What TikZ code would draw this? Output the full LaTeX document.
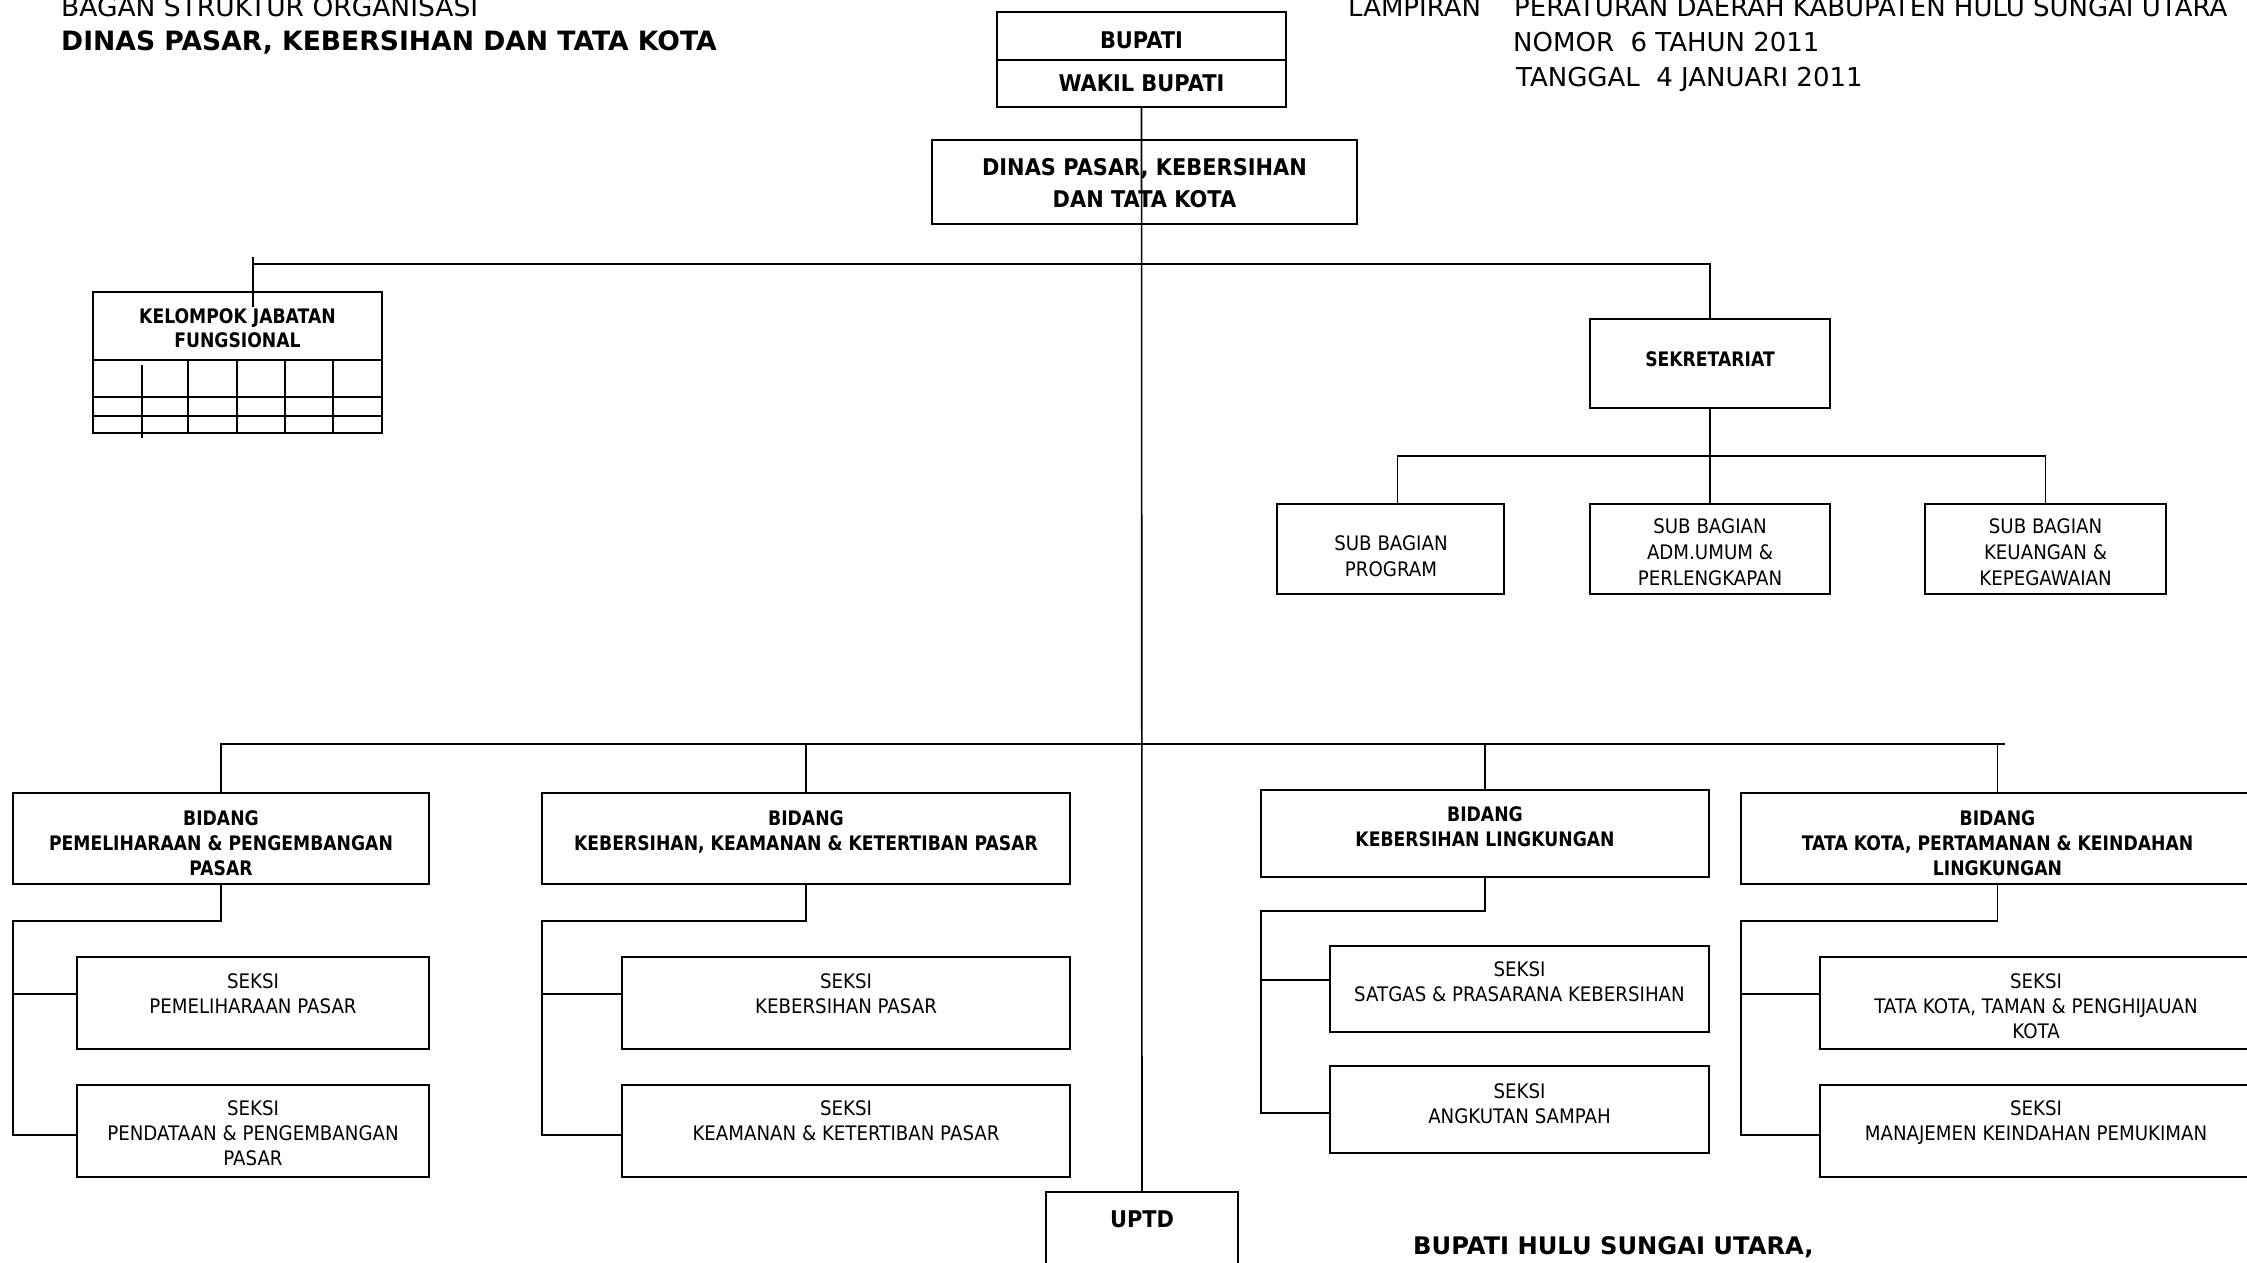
\documentclass[tikz,border=0pt]{standalone}
\usepackage{fontspec}
\setmainfont{DejaVu Sans}
\newfontfamily\tah{DejaVu Sans}
\newfontfamily\tahb{DejaVu Sans Bold}
\newfontfamily\tahbt[FakeStretch=0.91]{DejaVu Sans Bold}
\newfontfamily\tahc[FakeStretch=0.91]{DejaVu Sans}
\newfontfamily\tahbc[FakeStretch=0.86]{DejaVu Sans Bold}
\newcommand\mkbox[5]{\node[box, minimum width={(#4)-(#2)}, minimum height={(#5)-(#3)}] (#1) at ({((#2)+(#4))/2},{((#3)+(#5))/2}) {};}
\begin{document}
\begin{tikzpicture}[x=1pt,y=-1pt,
  box/.style={draw, line width=1.8pt, inner sep=0pt, rectangle},
  conn/.style={line width=1.6pt},
  tbl/.style={line width=1.6pt},
  tx/.style={inner sep=0pt, align=center, anchor=north},
  bc/.style={tx, font=\tahbc\fontsize{20}{25}\selectfont},
  rc/.style={tx, font=\tahc\fontsize{20}{25}\selectfont},
  bt/.style={tx, font=\tahbt\fontsize{23}{32}\selectfont},
  hdr/.style={anchor=base west, inner sep=0pt, font=\tah\fontsize{26}{30}\selectfont}]
\useasboundingbox (0,0) rectangle (2247,1263);
\fill[white] (0,0) rectangle (2247,1263);

% header texts
\node[hdr, font=\tah\fontsize{26.5}{30}\selectfont] (t1) at (61,17) {BAGAN STRUKTUR ORGANISASI};
\node[hdr, font=\tahb\fontsize{26.6}{30}\selectfont] (t2) at (61,51) {DINAS PASAR, KEBERSIHAN DAN TATA KOTA};
\node[hdr] (l1) at (1348,17) {LAMPIRAN};
\node[hdr] (l2) at (1514,17) {PERATURAN DAERAH KABUPATEN HULU SUNGAI UTARA};
\node[hdr] (l3) at (1513,52) {NOMOR\ \ 6 TAHUN 2011};
\node[hdr] (l4) at (1516,87) {TANGGAL\ \ 4 JANUARI 2011};

% boxes
\mkbox{bup}{997}{12}{1286}{60}
\mkbox{wak}{997}{60}{1286}{107}
\mkbox{din}{932}{140}{1357}{224}
\mkbox{kjf}{93}{292}{382}{433}
\mkbox{sek}{1590}{319}{1830}{408}
\mkbox{sb1}{1277}{504}{1504}{594}
\mkbox{sb2}{1590}{504}{1830}{594}
\mkbox{sb3}{1925}{504}{2166}{594}
\mkbox{bd1}{13}{793}{429}{884}
\mkbox{bd2}{542}{793}{1070}{884}
\mkbox{bd3}{1261}{790}{1709}{877}
\mkbox{bd4}{1741}{793}{2254}{884}
\mkbox{s11}{77}{957}{429}{1049}
\mkbox{s12}{77}{1085}{429}{1177}
\mkbox{s21}{622}{957}{1070}{1049}
\mkbox{s22}{622}{1085}{1070}{1177}
\mkbox{s31}{1330}{946}{1709}{1032}
\mkbox{s32}{1330}{1066}{1709}{1153}
\mkbox{s41}{1820}{957}{2252}{1049}
\mkbox{s42}{1820}{1085}{2252}{1177}
\mkbox{upt}{1046}{1192}{1238}{1300}

% KJF table
\draw[tbl] (93,360) -- (382,360);
\draw[tbl] (92,397) -- (382,397);
\draw[tbl] (92,416) -- (382,416);
\draw[tbl] (142,365) -- (142,438);
\foreach \xx in {188,237,285,333} \draw[tbl] (\xx,360) -- (\xx,434);

% texts in boxes
\node[bt] (bupt) at (1141.5,31.5) {BUPATI};
\node[bt] (wakt) at (1141.5,74.5) {WAKIL BUPATI};
\node[bt] (dint) at (1144.5,158) {DINAS PASAR, KEBERSIHAN\\DAN TATA KOTA};
\node[bc, font=\tahbc\fontsize{20}{24}\selectfont] (kjft) at (237.5,308.3) {KELOMPOK JABATAN\\FUNGSIONAL};
\node[bc] (sekt) at (1710,351.7) {SEKRETARIAT};
\node[rc, font=\tahc\fontsize{20}{26}\selectfont] (sb1t) at (1391,535) {SUB BAGIAN\\PROGRAM};
\node[rc, font=\tahc\fontsize{20}{26}\selectfont] (sb2t) at (1710,518) {SUB BAGIAN\\ADM.UMUM \&\\PERLENGKAPAN};
\node[rc, font=\tahc\fontsize{20}{26}\selectfont] (sb3t) at (2045.5,518) {SUB BAGIAN\\KEUANGAN \&\\KEPEGAWAIAN};
\node[bc] (bd1t) at (221,810) {BIDANG\\PEMELIHARAAN \& PENGEMBANGAN\\PASAR};
\node[bc] (bd2t) at (806,810) {BIDANG\\KEBERSIHAN, KEAMANAN \& KETERTIBAN PASAR};
\node[bc] (bd3t) at (1485,806.7) {BIDANG\\KEBERSIHAN LINGKUNGAN};
\node[bc] (bd4t) at (1997.5,810) {BIDANG\\TATA KOTA, PERTAMANAN \& KEINDAHAN\\LINGKUNGAN};
\node[rc] (s11t) at (253,973) {SEKSI\\PEMELIHARAAN PASAR};
\node[rc] (s12t) at (253,1100) {SEKSI\\PENDATAAN \& PENGEMBANGAN\\PASAR};
\node[rc] (s21t) at (846,973) {SEKSI\\KEBERSIHAN PASAR};
\node[rc] (s22t) at (846,1100) {SEKSI\\KEAMANAN \& KETERTIBAN PASAR};
\node[rc] (s31t) at (1519.5,961.7) {SEKSI\\SATGAS \& PRASARANA KEBERSIHAN};
\node[rc] (s32t) at (1519.5,1083) {SEKSI\\ANGKUTAN SAMPAH};
\node[rc] (s41t) at (2036,973) {SEKSI\\TATA KOTA, TAMAN \& PENGHIJAUAN\\KOTA};
\node[rc] (s42t) at (2036,1100) {SEKSI\\MANAJEMEN KEINDAHAN PEMUKIMAN};
\node[bt] (uptt) at (1142,1211) {UPTD};
\node[hdr, font=\tahb\fontsize{24.2}{30}\selectfont] (sign) at (1413,1254) {BUPATI HULU SUNGAI UTARA,};

% connectors: top
\draw[conn] (wak.south) -- (upt.north);
\coordinate (kjftop) at (253,257);
\coordinate (kjfin) at (253,307);
\coordinate (hmL) at (253,264);
\draw[conn] (kjftop) -- (kjfin);
\draw[conn] (hmL) -| (sek.north);

% sekretariat
\coordinate (sh1) at (1397.6,456);
\coordinate (sh2) at (2045.5,456);
\draw[conn] (sek.south) -- (sb2.north);
\draw[conn] (sb1.north -| sh1) -- (sh1) -- (sh2) -- (sb3.north);

% bidang bus
\coordinate (bh1) at (221,744);
\coordinate (bh2) at (2005,744);
\draw[conn] (bd1.north) -- (bh1) -- (bh2);
\draw[conn] (bd2.north) -- (bd2.north |- bh1);
\draw[conn] (bd3.north) -- (bd3.north |- bh1);
\draw[conn] (bd4.north) -- (bd4.north |- bh1);

% seksi connectors
\coordinate (k1a) at (13,921); \coordinate (k1b) at (13,994); \coordinate (k1c) at (13,1135);
\draw[conn] (bd1.south) |- (k1a) -- (k1c) -- (k1c -| s12.west);
\draw[conn] (k1b) -- (k1b -| s11.west);
\coordinate (k2a) at (542,921); \coordinate (k2b) at (542,994); \coordinate (k2c) at (542,1135);
\draw[conn] (bd2.south) |- (k2a) -- (k2c) -- (k2c -| s22.west);
\draw[conn] (k2b) -- (k2b -| s21.west);
\coordinate (k3a) at (1261,911); \coordinate (k3b) at (1261,980); \coordinate (k3c) at (1261,1113);
\draw[conn] (bd3.south) |- (k3a) -- (k3c) -- (k3c -| s32.west);
\draw[conn] (k3b) -- (k3b -| s31.west);
\coordinate (k4a) at (1741,921); \coordinate (k4b) at (1741,994); \coordinate (k4c) at (1741,1135);
\draw[conn] (bd4.south) |- (k4a) -- (k4c) -- (k4c -| s42.west);
\draw[conn] (k4b) -- (k4b -| s41.west);
\end{tikzpicture}
\end{document}
